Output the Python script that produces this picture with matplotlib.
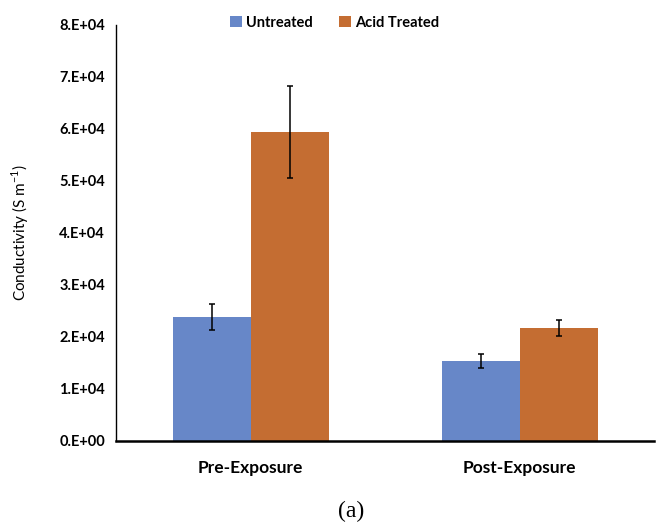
import numpy as np
import matplotlib
matplotlib.use("Agg")
import matplotlib.pyplot as plt

categories = ["Pre-Exposure", "Post-Exposure"]
series = ["Untreated", "Acid Treated"]
untreated = [2.38e4, 1.54e4]
untreated_err = [0.25e4, 0.13e4]
acid = [5.94e4, 2.17e4]
acid_err = [0.89e4, 0.16e4]
yticks = np.arange(0, 8.01e4, 1e4)
ytick_labels = ["0.E+00", "1.E+04", "2.E+04", "3.E+04", "4.E+04",
                "5.E+04", "6.E+04", "7.E+04", "8.E+04"]

plt.rcParams['font.family'] = ['Lato', 'DejaVu Sans']

fig = plt.figure(figsize=(6.56, 5.30), dpi=100)
ax = fig.add_axes([0.177, 0.168, 0.82, 0.785])

x = np.arange(len(categories))
w = 0.29
ekw = dict(ecolor="black", elinewidth=1.1, capsize=2.5, capthick=1.1)
b1 = ax.bar(x - w / 2, untreated, w, color="#6787C8", label=series[0],
            yerr=untreated_err, error_kw=ekw)
b2 = ax.bar(x + w / 2, acid, w, color="#C46D32", label=series[1],
            yerr=acid_err, error_kw=ekw)

ax.set_xlim(-0.5, 1.5)
ax.set_ylim(0, 8e4)
ax.set_yticks(yticks)
ax.set_yticklabels(ytick_labels, fontsize=10.5, fontweight="bold")
ax.set_xticks(x)
ax.set_xticklabels(categories, fontsize=12.5, fontweight="bold")
ax.tick_params(axis="both", length=0, pad=8)
ax.tick_params(axis="x", pad=14)
for s in ["top", "right"]:
    ax.spines[s].set_visible(False)
ax.spines["left"].set_linewidth(1.0)
ax.spines["bottom"].set_linewidth(1.8)

ax.set_ylabel("Conductivity (S m$^{\\mathregular{-1}}$)", fontsize=11, labelpad=20)

fig.legend(handles=[b1, b2], labels=series, loc="center", bbox_to_anchor=(0.51, 0.957),
           ncol=2, frameon=False, prop=dict(weight="bold", size=10.5),
           handlelength=0.8, handleheight=0.8, handletextpad=0.3, columnspacing=1.8)

fig.text(0.535, 0.035, "(a)", ha="center", va="center", fontsize=17,
         family="Liberation Serif")

fig.savefig("out.png", dpi=100)
